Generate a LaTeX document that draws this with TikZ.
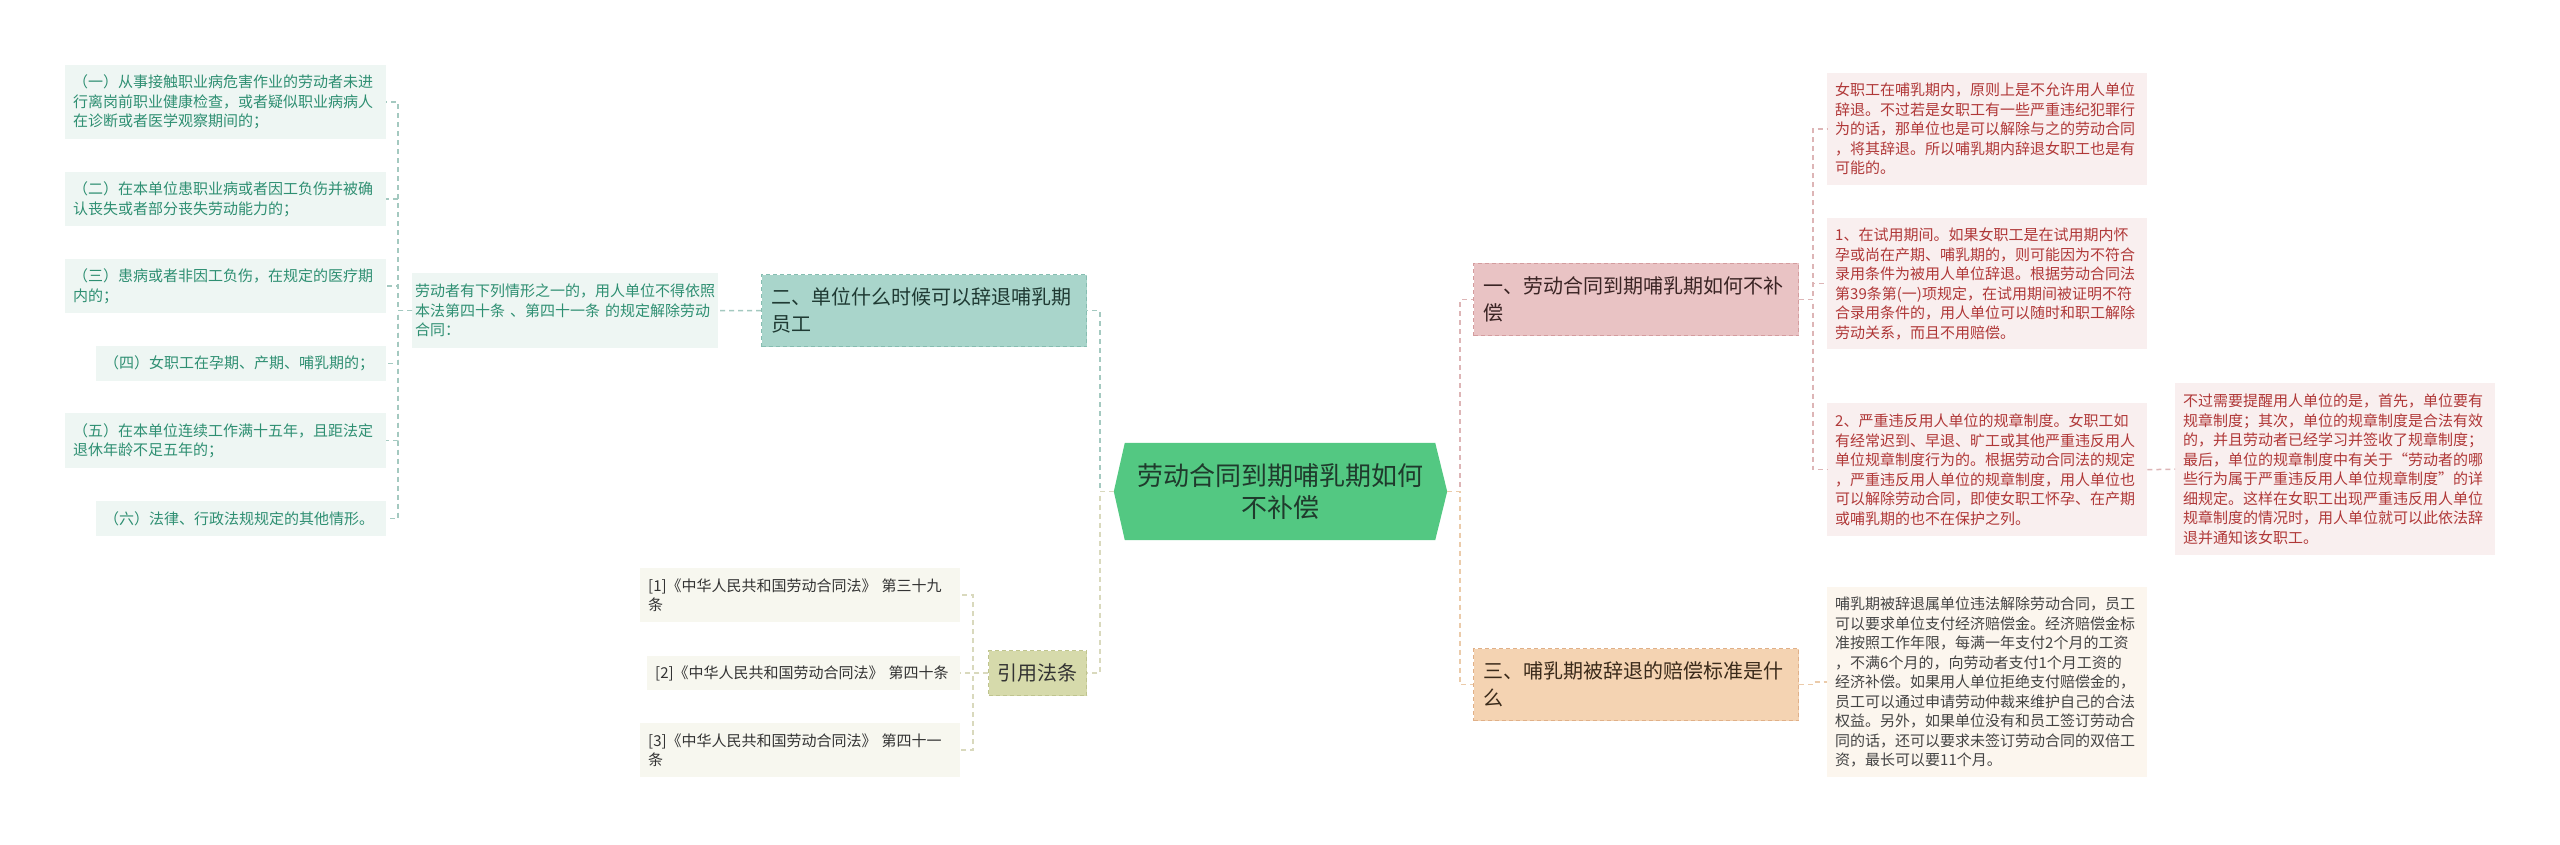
\documentclass[tikz,border=0pt]{standalone}
\usepackage{fontspec}
\setmainfont{Noto Sans CJK SC}
\usetikzlibrary{backgrounds}
\definecolor{cfill}{HTML}{53C882}
\definecolor{ctext}{HTML}{1F3A2C}
\definecolor{tealfill}{HTML}{A9D5CB}
\definecolor{tealdraw}{HTML}{86BDB1}
\definecolor{tealtext}{HTML}{1F3A33}
\definecolor{lfill}{HTML}{EEF6F3}
\definecolor{ltext}{HTML}{2E8F72}
\definecolor{lconn}{HTML}{A4C9C0}
\definecolor{olivefill}{HTML}{D6DAAB}
\definecolor{olivedraw}{HTML}{BFC48E}
\definecolor{cfillleaf}{HTML}{F7F7EF}
\definecolor{darktext}{HTML}{333333}
\definecolor{oconn}{HTML}{D9D9BD}
\definecolor{pinkfill}{HTML}{E9C3C4}
\definecolor{pinkdraw}{HTML}{D49C9E}
\definecolor{pinktext}{HTML}{3A2424}
\definecolor{pleaf}{HTML}{F9EFEF}
\definecolor{ptext}{HTML}{B03838}
\definecolor{pconn}{HTML}{DDB5B6}
\definecolor{peachfill}{HTML}{F4D3B2}
\definecolor{peachdraw}{HTML}{E0B088}
\definecolor{peachtext}{HTML}{3A2A1A}
\definecolor{peleaf}{HTML}{FCF6EE}
\definecolor{petext}{HTML}{444444}
\definecolor{peconn}{HTML}{EBCBAA}
\tikzset{
  leaf/.style={anchor=north west, inner xsep=8pt, inner ysep=0pt, align=left,
    font=\fontsize{15pt}{19.5pt}\selectfont},
  leafL/.style={leaf, fill=lfill, text=ltext},
  leafC/.style={leaf, fill=cfillleaf, text=darktext},
  leafP/.style={leaf, fill=pleaf, text=ptext},
  leafE/.style={leaf, fill=peleaf, text=petext},
  branch/.style={anchor=north west, inner xsep=10pt, inner ysep=0pt, align=left,
    font=\fontsize{20pt}{27pt}\selectfont, line width=1pt, dash pattern=on 4pt off 3pt},
  conn/.style={line width=1.5pt, dash pattern=on 5pt off 4pt}
}
\begin{document}
\begin{tikzpicture}[x=1pt,y=-1pt]
\useasboundingbox (0,0) rectangle (2560,845);

% center
\node[minimum width=333pt, minimum height=97pt, text width=300pt, align=center,
  inner sep=0pt, text=ctext, font=\fontsize{26pt}{32pt}\selectfont]
  (c) at (1280.5,491.5) {劳动合同到期哺乳期如何\\不补偿};

% left branch
\node[branch, fill=tealfill, draw=tealdraw, text=tealtext, minimum width=325pt,
  minimum height=72pt, text width=305pt] (n2) at (761,274)
  {二、单位什么时候可以辞退哺乳期\\员工};
\node[leafL, minimum width=306pt, minimum height=75pt, text width=300pt, inner xsep=3pt]
  (mid) at (412,273)
  {劳动者有下列情形之一的，用人单位不得依照\\本法第四十条 、第四十一条 的规定解除劳动\\合同：};
\node[leafL, minimum width=321pt, minimum height=74pt, text width=305pt] (L1) at (65,65)
  {（一）从事接触职业病危害作业的劳动者未进\\行离岗前职业健康检查，或者疑似职业病病人\\在诊断或者医学观察期间的；};
\node[leafL, minimum width=321pt, minimum height=54pt, text width=305pt] (L2) at (65,172)
  {（二）在本单位患职业病或者因工负伤并被确\\认丧失或者部分丧失劳动能力的；};
\node[leafL, minimum width=321pt, minimum height=54pt, text width=305pt] (L3) at (65,259)
  {（三）患病或者非因工负伤，在规定的医疗期\\内的；};
\node[leafL, minimum width=290pt, minimum height=35pt, text width=274pt] (L4) at (96,346)
  {（四）女职工在孕期、产期、哺乳期的；};
\node[leafL, minimum width=321pt, minimum height=55pt, text width=305pt] (L5) at (65,413)
  {（五）在本单位连续工作满十五年，且距法定\\退休年龄不足五年的；};
\node[leafL, minimum width=290pt, minimum height=35pt, text width=274pt] (L6) at (96,501)
  {（六）法律、行政法规规定的其他情形。};

% citations
\node[branch, fill=olivefill, draw=olivedraw, text=darktext, minimum width=98pt,
  minimum height=45pt, align=center, inner xsep=0pt] (cite) at (988,650) {引用法条};
\node[leafC, minimum width=320pt, minimum height=54pt, text width=304pt] (C1) at (640,568)
  {[1]《中华人民共和国劳动合同法》 第三十九\\条};
\node[leafC, minimum width=313pt, minimum height=34pt, text width=297pt] (C2) at (647,656)
  {[2]《中华人民共和国劳动合同法》 第四十条};
\node[leafC, minimum width=320pt, minimum height=54pt, text width=304pt] (C3) at (640,723)
  {[3]《中华人民共和国劳动合同法》 第四十一\\条};

% right branch 1
\node[branch, fill=pinkfill, draw=pinkdraw, text=pinktext, minimum width=325pt,
  minimum height=72pt, text width=305pt] (n1) at (1473,263)
  {一、劳动合同到期哺乳期如何不补\\偿};
\node[leafP, minimum width=320pt, minimum height=112pt, text width=304pt] (R1) at (1827,73)
  {女职工在哺乳期内，原则上是不允许用人单位\\辞退。不过若是女职工有一些严重违纪犯罪行\\为的话，那单位也是可以解除与之的劳动合同\\，将其辞退。所以哺乳期内辞退女职工也是有\\可能的。};
\node[leafP, minimum width=320pt, minimum height=131pt, text width=304pt] (R2) at (1827,218)
  {1、在试用期间。如果女职工是在试用期内怀\\孕或尚在产期、哺乳期的，则可能因为不符合\\录用条件为被用人单位辞退。根据劳动合同法\\第39条第(一)项规定，在试用期间被证明不符\\合录用条件的，用人单位可以随时和职工解除\\劳动关系，而且不用赔偿。};
\node[leafP, minimum width=320pt, minimum height=133pt, text width=304pt] (R3) at (1827,403)
  {2、严重违反用人单位的规章制度。女职工如\\有经常迟到、早退、旷工或其他严重违反用人\\单位规章制度行为的。根据劳动合同法的规定\\，严重违反用人单位的规章制度，用人单位也\\可以解除劳动合同，即使女职工怀孕、在产期\\或哺乳期的也不在保护之列。};
\node[leafP, minimum width=320pt, minimum height=172pt, text width=304pt] (R4) at (2175,383)
  {不过需要提醒用人单位的是，首先，单位要有\\规章制度；其次，单位的规章制度是合法有效\\的，并且劳动者已经学习并签收了规章制度；\\最后，单位的规章制度中有关于“劳动者的哪\\些行为属于严重违反用人单位规章制度”的详\\细规定。这样在女职工出现严重违反用人单位\\规章制度的情况时，用人单位就可以此依法辞\\退并通知该女职工。};

% right branch 3
\node[branch, fill=peachfill, draw=peachdraw, text=peachtext, minimum width=325pt,
  minimum height=72pt, text width=305pt] (n3) at (1473,648)
  {三、哺乳期被辞退的赔偿标准是什\\么};
\node[leafE, minimum width=320pt, minimum height=190pt, text width=304pt] (R5) at (1827,587)
  {哺乳期被辞退属单位违法解除劳动合同，员工\\可以要求单位支付经济赔偿金。经济赔偿金标\\准按照工作年限，每满一年支付2个月的工资\\，不满6个月的，向劳动者支付1个月工资的\\经济补偿。如果用人单位拒绝支付赔偿金的，\\员工可以通过申请劳动仲裁来维护自己的合法\\权益。另外，如果单位没有和员工签订劳动合\\同的话，还可以要求未签订劳动合同的双倍工\\资，最长可以要11个月。};

\begin{scope}[on background layer]
\fill[white] (0,0) rectangle (2560,845);
\fill[cfill] ([xshift=11pt]c.north west) -- ([xshift=-12pt]c.north east) -- (c.east)
  -- ([xshift=-12pt]c.south east) -- ([xshift=11pt]c.south west) -- (c.west) -- cycle;
\end{scope}

% connectors
\draw[conn, draw=lconn] (c.west) -- ++(-14,0) |- (n2.east);
\draw[conn, draw=oconn] (c.west) -- ++(-14,0) |- (cite.east);
\draw[conn, draw=lconn] (n2.west) -- (mid.east);
\foreach \t in {L1,L2,L3,L4,L5,L6}
  \draw[conn, draw=lconn] (mid.west) -- ++(-14,0) |- (\t.east);
\foreach \t in {C1,C2,C3}
  \draw[conn, draw=oconn] (cite.west) -- ++(-15,0) |- (\t.east);
\draw[conn, draw=pconn] (c.east) -- ++(13,0) |- (n1.west);
\draw[conn, draw=peconn] (c.east) -- ++(13,0) |- (n3.west);
\foreach \t in {R1,R2,R3}
  \draw[conn, draw=pconn] (n1.east) -- ++(14,0) |- (\t.west);
\draw[conn, draw=pconn] (R3.east) -- (R4.west);
\draw[conn, draw=peconn] (n3.east) -- ++(14,0) |- (R5.west);
\end{tikzpicture}
\end{document}
